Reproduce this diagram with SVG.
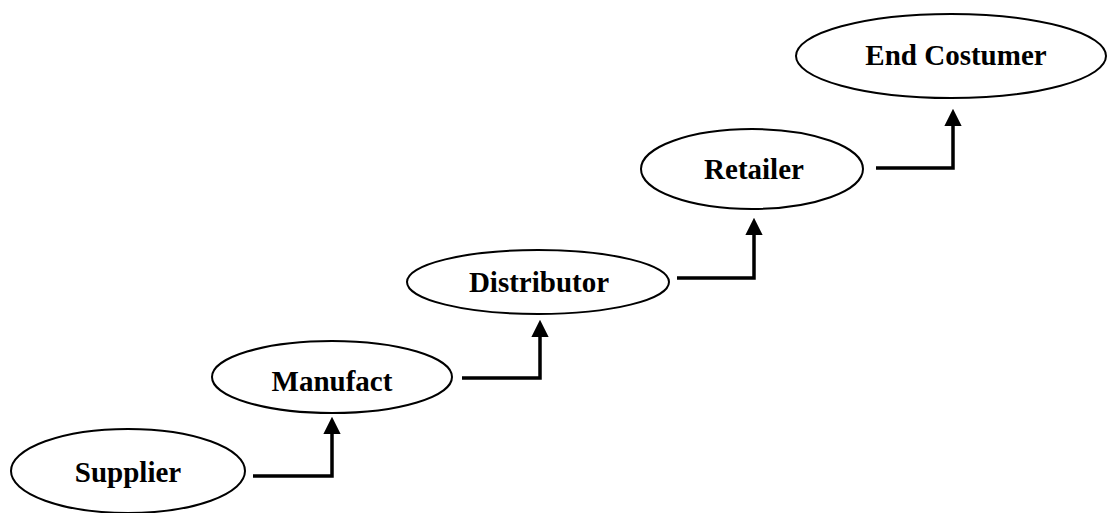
<svg xmlns="http://www.w3.org/2000/svg" width="1108" height="513" viewBox="0 0 1108 513">
<style>
.node ellipse{fill:#fff;stroke:#000;stroke-width:2}
.node text{font-family:"Liberation Serif","Times New Roman",serif;font-weight:bold;font-size:29px;text-anchor:middle;fill:#000}
.conn path{fill:none;stroke:#000;stroke-width:3.5;marker-end:url(#arr)}
</style>
<defs>
<marker id="arr" markerWidth="5" markerHeight="5" refX="1.2" refY="2.5" orient="auto" markerUnits="strokeWidth" viewBox="0 0 5 5">
<path d="M0,0 L5,2.5 L0,5 Z" fill="#000"/>
</marker>
</defs>
<g id="supplier" class="node"><ellipse cx="128" cy="471" rx="117" ry="42"/><text x="128" y="482">Supplier</text></g>
<g id="manufact" class="node"><ellipse cx="332" cy="377" rx="120" ry="36"/><text x="332" y="391">Manufact</text></g>
<g id="distributor" class="node"><ellipse cx="538" cy="282" rx="131" ry="32"/><text x="539" y="292">Distributor</text></g>
<g id="retailer" class="node"><ellipse cx="752" cy="169" rx="111" ry="40"/><text x="754" y="179">Retailer</text></g>
<g id="end-costumer" class="node"><ellipse cx="951" cy="56" rx="155" ry="42"/><text x="956" y="65">End Costumer</text></g>
<g id="connectors" class="conn">
<path d="M253,476 H332 V430"/>
<path d="M462,378 H540 V333"/>
<path d="M677,278 H754 V231"/>
<path d="M876,168 H953 V122"/>
</g>
</svg>
